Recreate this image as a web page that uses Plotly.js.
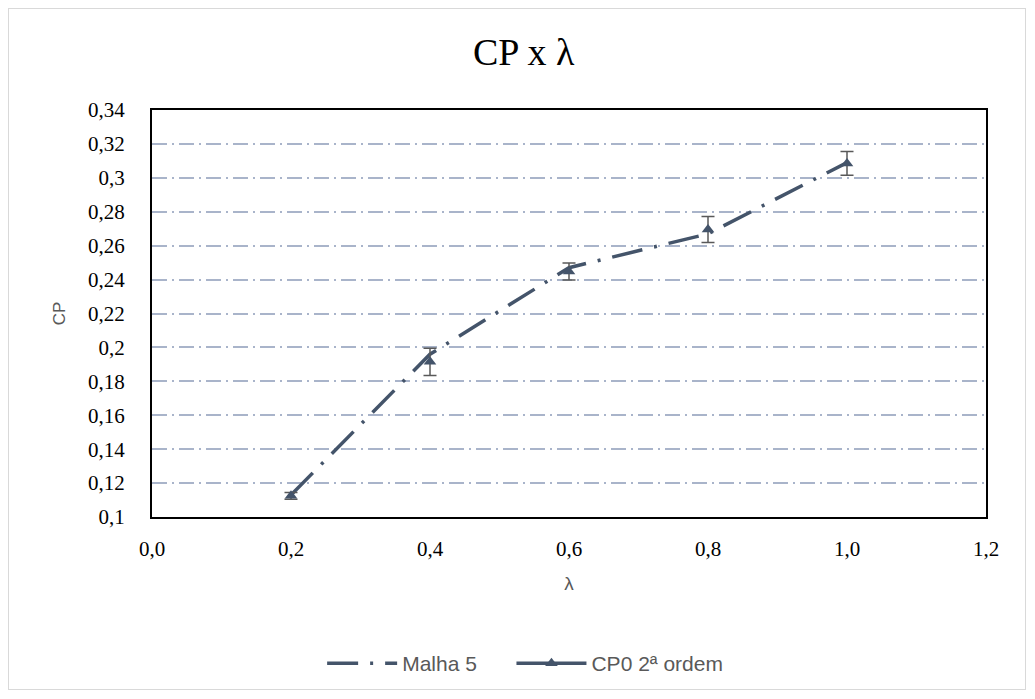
<!DOCTYPE html>
<html>
<head>
<meta charset="utf-8">
<script src="https://cdn.plot.ly/plotly-3.0.1.min.js"></script>
<style>
  html, body { margin: 0; padding: 0; background: #ffffff; }
  #frame { position: absolute; left: 8px; top: 8px; width: 1018px; height: 682px; border: 1px solid #d9d9d9; box-sizing: border-box; }
  #chart { position: absolute; left: 0; top: 0; width: 1035px; height: 699px; }
</style>
</head>
<body>
<div id="frame"></div>
<div id="chart"></div>
<script>
// Tip speed ratio values and power coefficients
const lambdaVals = [0.2, 0.4, 0.6, 0.8, 1.0];
const cpMalha5 = [0.113, 0.196, 0.247, 0.267, 0.309];
const cpCP0 = [0.1125, 0.1915, 0.2448, 0.2695, 0.3085];
const cpCP0Err = [0.002, 0.008, 0.005, 0.0077, 0.007];

const seriesNames = ['Malha 5', 'CP0 2ª ordem'];
const lineColor = '#44546A';
const serif = 'Liberation Serif, Times New Roman, serif';
const sans = 'Liberation Sans, Arial, sans-serif';

const traces = [
  {
    x: lambdaVals, y: cpMalha5, name: seriesNames[0], legend: 'legend',
    type: 'scatter', mode: 'lines',
    line: { color: lineColor, width: 3.5, dash: '31px,12px,3px,12px' }
  },
  {
    x: lambdaVals, y: cpCP0, name: seriesNames[1],
    type: 'scatter', mode: 'markers', showlegend: false,
    marker: { symbol: 'triangle-up', size: 11, color: lineColor },
    error_y: { type: 'data', array: cpCP0Err, visible: true, color: '#595959', thickness: 1.5, width: 6.5 }
  },
  {
    // legend key for the CP0 series (line with triangle marker)
    x: [null], y: [null], name: seriesNames[1], legend: 'legend2',
    type: 'scatter', mode: 'lines+markers',
    line: { color: lineColor, width: 3.5 },
    marker: { symbol: 'triangle-up', size: 11, color: lineColor }
  }
];

const legendStyle = {
  orientation: 'h', y: -0.36, yanchor: 'middle', xanchor: 'left',
  font: { family: sans, size: 21, color: '#595959' },
  itemwidth: 70, bgcolor: 'rgba(0,0,0,0)'
};

const layout = {
  width: 1035, height: 699,
  paper_bgcolor: 'rgba(0,0,0,0)', plot_bgcolor: '#ffffff',
  separators: ',.',
  margin: { l: 152, r: 49, t: 110, b: 182 },
  title: {
    text: 'CP x λ',
    font: { family: serif, size: 38, color: '#000000' },
    x: 0.506, xanchor: 'center', y: 0.926, yanchor: 'middle'
  },
  xaxis: {
    range: [0, 1.2], dtick: 0.2, tick0: 0, tickformat: '.1f',
    showgrid: false, zeroline: false,
    showline: true, linecolor: '#000000', linewidth: 2, mirror: true,
    ticks: '', ticklabelstandoff: 12,
    tickfont: { family: serif, size: 21, color: '#000000' },
    title: { text: 'λ', standoff: 16, font: { family: sans, size: 19, color: '#595959' } }
  },
  yaxis: {
    range: [0.1, 0.34], dtick: 0.02, tick0: 0.1,
    showgrid: true, gridcolor: '#A9B4CA', gridwidth: 2, griddash: '15px,5px,2px,5px',
    zeroline: false,
    showline: true, linecolor: '#000000', linewidth: 2, mirror: true,
    ticks: '', ticklabelstandoff: 21,
    tickfont: { family: serif, size: 21, color: '#000000' },
    title: { text: 'CP', standoff: 18, font: { family: sans, size: 17, color: '#595959' } }
  },
  legend: Object.assign({}, legendStyle, { x: 0.204 }),
  legend2: Object.assign({}, legendStyle, { x: 0.431 }),
  showlegend: true
};

Plotly.newPlot('chart', traces, layout, { displayModeBar: false, staticPlot: true });
</script>
</body>
</html>
